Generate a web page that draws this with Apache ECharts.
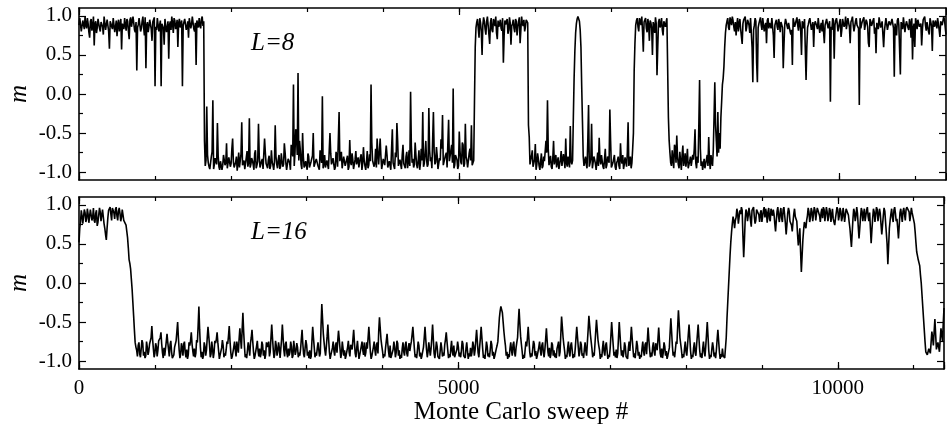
<!DOCTYPE html>
<html>
<head>
<meta charset="utf-8">
<script src="https://cdn.jsdelivr.net/npm/echarts@6/dist/echarts.min.js"></script>
<style>html,body{margin:0;padding:0;background:#fff}#c{width:947px;height:425px}</style>
</head>
<body>
<div id="c"></div>
<script>
// Sweep spacing between stored samples (main samples at 0,20,40..; mid samples at 10,30,50..)
const STEP = 20;
// x axis: Monte Carlo sweep
const X_MIN = 0, X_MAX = 11400;
const xLabelValues = [0, 5000, 10000];
const yLabelValues = [-1.0, -0.5, 0.0, 0.5, 1.0];
const yMinorValues = [-0.75, -0.25, 0.25, 0.75];

// ---- L=8 magnetisation (m x 100), main samples, successive segments ----
const l8Up1 = [88,95,78,92,99,84,90,72,96,87,62,93,85,98,80,91,76,97,89,94,58,90,83,99,86,74,95,88,57,92,97,81,93,70,98,87,91,79,30,89,96,84,99,75,33,92,86,97,68,90,10,82,95,88,10,91,63,97,85,45,93,99,78,94,87,60,96,83,10,90,98,86,72,95,89,99,80,37,92,97,84,99,93];
const l8Down1 = [-92,-16,-88,-96,-80,-8,-90,-84,-37,-93,-86,-97,-78,-91,-63,-95,-82,-89,-57,-94,-87,-98,-75,-92,-36,-88,-96,-81,-93,-31,-90,-85,-97,-72,-91,-38,-94,-86,-96,-57,-89,-95,-79,-92,-87,-97,-40,-90,-84,-96,-76,-93,-63,-88,-95,-82,-97,-70,12,-75,-55,27,-60,-90,-50,-94,-86,-97,-80,-92,-88,-50,-95,-83,-91,-97,-78,-3,-89,-94,-85,-96,-50,-90,-82,-97,-74,-93,-23,-88,-95,-80,-92,-86,-97,-59,-91,-84,-96,-73,-89,-94,-81,-97,-68,-92,-87,-95,-77,12,-85,-93,-70,-57,-90,-57,-96,-83,-91,-66,-94,-86,-97,-45,-89,-75,-37,-92,-84,-96,-65,-90,-80,-95,-72,3,-88,-94,-62,-91,-85,-97,-70,-23,-89,-60,-93,-18,-86,-95,-23,-90,-68,-96,-82,-58,-27,-92,-78,-94,-33,-88,-65,7,-91,-80,-96,-48,-87,-62,-93,-38,-85,-95,-70,-40,-88];
const l8Up2 = [-10,85,96,72,91,50,98,83,93,88,64,97,79,92,99,70,86,95,81,40,94,89,77,98,63,90,84,96,75,93,65,99,87,80,95,91];
const l8Down2 = [-55,-88,-72,-95,-64,-90,-83,-97,-76,-92,-86,-60,-8,-91,-79,-96,-60,-89,-94,-81,-97,-73,-90,-85,-57,-93,-80,-41,-90];
const l8Hump = [-30,55,90,99,93,60,-35];
const l8Down3 = [-92,-80,-95,-14,-88,-38,-93,-84,-97,-75,-56,-90,-86,-96,-70,-91,-83,-20,-94,-88,-78,-97,-85,-92,-63,-89,-96,-81,-93,-36,-87,-95,-70];
const l8Up3 = [30,88,97,80,93,99,54,90,84,96,68,91,50,87,98,24,92,85,97,75,94,88,96];
const l8Down4 = [-60,-88,-72,-95,-68,-53,-90,-74,-97,-66,-86,-93,-70,-96,-80,-91,-84,-45,-95,-88,18,-92,-97,-83,-94,-78,-55,-96,-87,-72,15,-60,-23,-50];
const l8Up4 = [-30,12,35,78,93,85,98,88,94,80,75,97,90,83,64,95,99,86,92,78,96,15,88,93,15,90,98,82,95,87,65,97,91,84,99,46,92,86,96,79,94,33,89,97,83,93,76,37,95,88,98,81,92,50,90,96,18,85,94,99,80,60,93,87,97,78,91,95,65,89,98,84,-10,82,94,88,97,80,92,73,96,86,99,83,91,65,95,88,79,97,90,-14,84,93,98,81,92,65,96,87,94,77,52,90,98,85,93,60,89,96,80,92,86,97,22,84,94,88,25,91,98,79,93,85,96,72,44,90,97,83,94,88,62,95,99,81,92,76,96,55,89,94,84,98,73,91,86,95,76];

// ---- L=8 mid samples (between main samples) ----
const l8MidUp1 = [97,80,94,83,88,97,79,93,81,99,90,78,96,84,92,86,99,82,95,80,93,86,97,79,94,89,80,96,90,83,88,96,80,95,86,99,82,92,85,97,80,93,85,98,88,79,95,83,92,98,86,97,80,94,90,84,96,79,93,88,82,90,97,83,95,91,85,94,88,96,82,93,97,84,99,83,91,94,85,88,96,87,-60];
const l8MidDown1 = [-85,-78,-93,-88,-74,-96,-82,-90,-79,-97,-84,-91,-76,-88,-95,-81,-93,-70,-87,-96,-80,-89,-94,-77,-91,-85,-98,-73,-88,-94,-82,-90,-76,-95,-86,-79,-92,-83,-97,-75,-89,-84,-96,-72,-91,-87,-80,-95,-78,-93,-86,-90,-75,-97,-83,-88,-65,-80,-92,-45,-78,-85,-72,-96,-80,-91,-84,-76,-94,-87,-79,-93,-86,-81,-90,-72,-88,-95,-78,-92,-85,-97,-76,-89,-83,-94,-80,-91,-86,-74,-95,-82,-88,-79,-93,-87,-76,-96,-84,-90,-81,-94,-77,-89,-85,-97,-73,-91,-86,-62,-83,-88,-94,-76,-89,-80,-95,-82,-90,-78,-93,-85,-70,-88,-96,-81,-60,-92,-84,-78,-89,-95,-74,-87,-92,-66,-83,-90,-78,-95,-72,-88,-85,-93,-76,-84,-90,-72,-81,-96,-74,-87,-79,-94,-85,-70,-91,-82,-75,-93,-86,-72,-88,-95,-78,-84,-92,-73,-90,-65,-89,-80,-94,-76,-85,-91,-85];
const l8MidUp2 = [60,92,84,97,80,88,93,76,99,86,91,82,96,87,78,94,90,84,97,75,89,96,82,91,87,95,79,93,86,98,82,90,95,86,93,-40];
const l8MidDown2 = [-90,-79,-93,-84,-97,-76,-92,-86,-95,-80,-88,-75,-70,-85,-93,-82,-90,-78,-87,-96,-84,-92,-77,-95,-88,-80,-94,-86,-85];
const l8MidHump = [20,78,96,98,82,10,-80];
const l8MidDown3 = [-86,-90,-60,-93,-82,-95,-80,-89,-86,-92,-84,-78,-93,-83,-95,-80,-88,-60,-91,-83,-93,-88,-80,-96,-84,-78,-90,-86,-75,-92,-80,-88,-50];
const l8MidUp3 = [65,94,86,97,88,80,92,97,79,88,94,84,92,78,90,60,96,88,82,93,86,97,-30];
const l8MidDown4 = [-75,-92,-84,-65,-88,-80,-95,-86,-78,-92,-76,-84,-95,-86,-92,-78,-70,-88,-80,-40,-70,-86,-90,-95,-84,-92,-85,-78,-92,-30,-40,-80,-75,-70];
const l8MidUp4 = [-10,20,60,88,97,82,94,99,86,92,89,80,96,84,90,93,80,95,88,97,60,82,97,40,85,92,88,97,80,91,94,84,89,97,75,88,95,82,90,92,85,64,96,87,91,80,82,97,86,94,88,96,80,93,84,95,60,89,97,82,92,88,95,83,97,86,80,93,88,96,84,93,86,97,45,94,90,85,96,82,95,89,83,97,86,92,99,80,93,88,84,97,89,92,82,95,86,60,93,90,97,85,91,83,96,88,94,80,97,82,93,88,96,84,90,75,97,86,92,83,98,88,94,82,91,97,85,60,92,95,86,90,83,97,88,92,80,97,87,94,86,90,97,82,93,88,99,85];

// ---- L=16 magnetisation (m x 100), main samples, successive segments ----
const l16Up1 = [52,78,86,74,90,82,88,76,92,84,80,89,73,87,91,79,85,70,55,83,93,88,96,90,94,86,92,89,84,87,80];
const l16Fall1 = [74,58,30,18,-8,-42,-76];
const l16Down1 = [
-86,-80,-91,-84,-77,-88,-93,-82,-87,-79,-55,-84,-90,-81,-86,-76,-63,-89,-83,-92,
-65,-85,-79,-88,-94,-82,-74,-50,-86,-91,-83,-78,-89,-85,-92,-80,-63,-87,-84,-90,
-76,-30,-82,-88,-93,-81,-86,-56,-79,-91,-84,-89,-77,-63,-87,-92,-83,-80,-90,-85,
-78,-55,-88,-94,-82,-86,-75,-89,-58,-84,-38,-80,-91,-86,-83,-77,-60,-88,-93,-81,
-87,-84,-90,-79,-86,-92,-82,-75,-88,-53,-85,-91,-80,-87,-83,-94,-53,-86,-78,-90,
-84,-88,-81,-93,-76,-87,-82,-89,-85,-60,-91,-83,-79,-88,-86,-94,-56,-82,-89,-84,
-78,-90,-27,-65,-86,-81,-53,-88,-92,-83,-87,-80,-89,-61,-84,-91,-77,-86,-93,-82,
-88,-79,-85,-60,-90,-83,-87,-92,-81,-86,-76,-89,-84,-56,-88,-93,-82,-86,-79,-90,
-44,-72,-87,-91,-83,-65,-88,-80,-94,-85,-82,-89,-77,-86,-92,-84,-88,-79,-90,-83,
-87,-75,-56,-84,-91,-86,-80,-89,-93,-82,-56,-85,-88,-78,-84,-53,-90,-86,-81,-92,
-87,-83,-89,-79,-63,-86,-91,-84,-88,-80,-93,-85,-82,-89,-86,-78,-91,-84,-87,-90,
-83,-88,-80,-86,-60,-89,-82,-56,-84,-92,-87,-81,-90,-85,-79,-88,-93,-84,-75,-45,
-30,-38,-62,-80,-88,-91,-84,-86,-79,-89,-83,-70,-33,-68,-87,-92,-85,-81,-56,-88,
-90,-84,-78,-87,-93,-82,-86,-80,-89,-85,-58,-88,-83,-91,-79,-86,-90,-84,-75,-88,
-43,-70,-87,-92,-83,-89,-80,-86,-91,-84,-56,-82,-88,-79,-90,-85,-87,-76,-42,-66,
-84,-89,-78,-47,-73,-86,-91,-83,-88,-80,-87,-92,-84,-50,-79,-88,-85,-90,-50,-82,
-86,-89,-81,-93,-84,-87,-56,-83,-90,-86,-80,-88,-92,-84,-87,-79,-91,-57,-85,-89,
-82,-88,-77,-86,-57,-90,-84,-89,-81,-87,-93,-83,-45,-80,-88,-85,-78,-35,-70,-86,
-91,-84,-88,-80,-53,-87,-92,-83,-89,-79,-53,-86,-90,-84,-88,-81,-50,-87,-92,-85,
-83,-89,-86,-60,-88,-91,-84,-93,-95];
const l16Rise = [-45,-5,35,65,85];
const l16Up2 = [
70,84,90,78,88,93,33,82,91,86,89,72,94,85,80,92,87,90,78,93,
84,89,91,82,95,86,88,66,92,85,90,83,94,87,62,89,92,81,66,88,
85,79,48,70,14,55,78,70,86,91,84,92,88,93,89,95,86,90,83,94,
88,91,85,93,87,82,74,90,94,86,92,84,89,80,93,87,70,46,82,91,
86,89,57,84,92,88,79,93,85,90,51,83,91,87,94,80,89,62,86,92,
78,24,70,88,84,93,89,82,57,90,86,92,88,94,96,91,87,90];
const l16Fall2 = [88,65,40,30,22,0,-30,-60,-88];
const l16Down2 = [-92,-84,-90,-62,-80,-46,-85,-76,-88,-58,-74,-32];

// ---- L=16 mid samples ----
const l16MidUp1 = [70,93,76,94,78,95,77,94,80,96,77,93,78,96,79,94,76,62,70,93,97,80,98,82,97,80,96,79,94,80,78];
const l16MidFall1 = [66,45,25,5,-25,-60,-82];
const l16MidDown1 = [
-94,-76,-95,-73,-93,-96,-75,-92,-78,-70,-72,-95,-77,-94,-74,-70,-78,-96,-93,-75,
-76,-94,-74,-96,-92,-78,-62,-70,-96,-77,-93,-75,-95,-97,-76,-74,-78,-94,-95,-73,
-55,-60,-95,-97,-76,-93,-70,-68,-95,-75,-96,-74,-72,-76,-97,-94,-73,-95,-93,-75,
-68,-74,-97,-92,-75,-94,-76,-72,-72,-60,-62,-95,-96,-76,-93,-70,-75,-97,-92,-74,
-94,-95,-75,-93,-97,-76,-78,-94,-70,-70,-96,-74,-93,-76,-96,-72,-70,-94,-75,-95,
-93,-75,-96,-74,-92,-77,-95,-93,-72,-78,-95,-73,-93,-96,-97,-74,-70,-95,-93,-76,
-94,-55,-46,-76,-93,-68,-72,-97,-94,-75,-93,-76,-74,-72,-96,-75,-93,-97,-95,-74,
-94,-77,-72,-76,-95,-74,-97,-93,-75,-92,-94,-76,-70,-72,-97,-94,-75,-93,-76,-62,
-58,-80,-96,-94,-74,-78,-95,-96,-94,-75,-95,-74,-93,-97,-96,-76,-93,-75,-94,-77,
-80,-66,-70,-95,-96,-75,-94,-97,-93,-70,-72,-95,-76,-93,-70,-72,-96,-75,-94,-97,
-76,-94,-93,-72,-75,-96,-95,-74,-93,-95,-96,-75,-94,-95,-74,-93,-96,-76,-97,-94,
-94,-75,-93,-72,-75,-95,-70,-70,-96,-97,-75,-94,-95,-74,-93,-97,-95,-80,-60,-36,
-34,-50,-72,-93,-97,-95,-76,-93,-75,-94,-76,-50,-52,-78,-97,-96,-75,-70,-72,-95,
-94,-74,-93,-97,-95,-75,-93,-76,-95,-72,-74,-94,-96,-76,-93,-95,-96,-80,-94,-66,
-56,-79,-97,-95,-75,-94,-76,-96,-95,-70,-69,-94,-75,-93,-96,-76,-93,-60,-54,-75,
-95,-93,-62,-60,-80,-97,-95,-74,-93,-76,-97,-95,-68,-65,-93,-95,-96,-70,-66,-93,
-95,-76,-94,-97,-75,-72,-70,-95,-96,-74,-93,-97,-95,-75,-93,-76,-74,-72,-95,-94,
-76,-93,-75,-72,-74,-95,-96,-76,-93,-97,-95,-64,-62,-93,-95,-75,-56,-52,-78,-96,
-95,-75,-93,-66,-70,-97,-95,-76,-93,-66,-70,-95,-96,-75,-94,-66,-68,-97,-95,-76,
-94,-96,-72,-74,-97,-95,-93,-96,-70];
const l16MidRise = [-25,15,52,76,80];
const l16MidUp2 = [
80,95,76,93,97,60,55,94,79,96,80,93,97,76,94,96,78,93,76,97,
95,77,96,79,97,94,76,80,97,78,96,78,97,76,75,96,79,74,78,95,
82,62,58,40,35,68,74,80,96,78,96,79,97,80,96,97,78,95,97,79,
97,79,96,78,95,78,83,97,80,96,79,96,78,95,97,78,58,64,95,79,
97,72,70,96,79,95,78,97,79,70,68,95,78,97,79,95,75,74,96,78,
50,46,80,95,78,97,79,70,74,95,78,96,80,97,98,79,96,89];
const l16MidFall2 = [76,52,35,26,10,-15,-45,-75,-90];
const l16MidDown2 = [-88,-86,-76,-70,-62,-66,-80,-82,-72,-66,-52];

const l8 = [].concat(l8Up1, l8Down1, l8Up2, l8Down2, l8Hump, l8Down3, l8Up3, l8Down4, l8Up4);
const l8Mid = [].concat(l8MidUp1, l8MidDown1, l8MidUp2, l8MidDown2, l8MidHump, l8MidDown3, l8MidUp3, l8MidDown4, l8MidUp4);
const l16 = [].concat(l16Up1, l16Fall1, l16Down1, l16Rise, l16Up2, l16Fall2, l16Down2);
const l16Mid = [].concat(l16MidUp1, l16MidFall1, l16MidDown1, l16MidRise, l16MidUp2, l16MidFall2, l16MidDown2);

// interleave main samples (sweep i*STEP) with mid samples (sweep i*STEP + STEP/2)
function toPoints(main, mid) {
  const out = [];
  main.forEach((v, i) => {
    out.push([i * STEP, v / 100]);
    if (i < mid.length) out.push([i * STEP + STEP / 2, mid[i] / 100]);
  });
  return out;
}

const FONT = 'Liberation Serif';
const BLACK = '#000';
const TICK = {color: BLACK, width: 1.2};

function xAxes(gridIndex, withLabels) {
  const base = {gridIndex, type: 'value', min: X_MIN, max: X_MAX, splitLine: {show: false}};
  return [
    Object.assign({}, base, {position: 'bottom', interval: 5000,
      axisLine: {show: true, onZero: false, lineStyle: {color: BLACK, width: 1.6}},
      axisTick: {show: true, inside: true, length: 7, lineStyle: TICK},
      axisLabel: {show: withLabels, margin: 9, color: BLACK, fontFamily: FONT, fontSize: 21,
        formatter: v => (xLabelValues.indexOf(v) >= 0 ? String(v) : '')}}),
    Object.assign({}, base, {position: 'bottom', interval: 1000,
      axisLine: {show: false, onZero: false}, axisLabel: {show: false},
      axisTick: {show: true, inside: true, length: 4, lineStyle: TICK}}),
    Object.assign({}, base, {position: 'top', interval: 5000,
      axisLine: {show: true, onZero: false, lineStyle: {color: BLACK, width: 1.6}},
      axisTick: {show: true, inside: true, length: 7, lineStyle: TICK},
      axisLabel: {show: false}}),
    Object.assign({}, base, {position: 'top', interval: 1000,
      axisLine: {show: false, onZero: false}, axisLabel: {show: false},
      axisTick: {show: true, inside: true, length: 4, lineStyle: TICK}})
  ];
}
function yAxes(gridIndex) {
  const base = {gridIndex, type: 'value', min: -1.1, max: 1.1, splitLine: {show: false}};
  return [
    Object.assign({}, base, {position: 'left',
      axisLine: {show: true, onZero: false, lineStyle: {color: BLACK, width: 1.6}},
      axisTick: {show: true, inside: true, length: 7, customValues: yLabelValues, lineStyle: TICK},
      axisLabel: {show: true, margin: 7, color: BLACK, fontFamily: FONT, fontSize: 21, customValues: yLabelValues,
        formatter: v => v.toFixed(1)}}),
    Object.assign({}, base, {position: 'left',
      axisLine: {show: false, onZero: false}, axisLabel: {show: false},
      axisTick: {show: true, inside: true, length: 4, customValues: yMinorValues, lineStyle: TICK}}),
    Object.assign({}, base, {position: 'right',
      axisLine: {show: true, onZero: false, lineStyle: {color: BLACK, width: 1.6}},
      axisTick: {show: true, inside: true, length: 7, customValues: yLabelValues, lineStyle: TICK},
      axisLabel: {show: false}}),
    Object.assign({}, base, {position: 'right',
      axisLine: {show: false, onZero: false}, axisLabel: {show: false},
      axisTick: {show: true, inside: true, length: 4, customValues: yMinorValues, lineStyle: TICK}})
  ];
}

const chart = echarts.init(document.getElementById('c'), null, {renderer: 'canvas'});
chart.setOption({
  animation: false,
  backgroundColor: '#fff',
  grid: [
    {left: 79, right: 1, top: 8, height: 172},
    {left: 79, right: 1, top: 197, height: 172}
  ],
  xAxis: xAxes(0, false).concat(xAxes(1, true)),
  yAxis: yAxes(0).concat(yAxes(1)),
  series: [
    {type: 'line', xAxisIndex: 0, yAxisIndex: 0, data: toPoints(l8, l8Mid), showSymbol: false,
      lineStyle: {color: BLACK, width: 1.6}, silent: true},
    {type: 'line', xAxisIndex: 4, yAxisIndex: 4, data: toPoints(l16, l16Mid), showSymbol: false,
      lineStyle: {color: BLACK, width: 1.6}, silent: true}
  ],
  graphic: [
    {type: 'text', x: 251, y: 43, style: {text: 'L=8', fill: BLACK, font: 'italic 25px "Liberation Serif"', textAlign: 'left', textVerticalAlign: 'middle'}},
    {type: 'text', x: 251, y: 232, style: {text: 'L=16', fill: BLACK, font: 'italic 25px "Liberation Serif"', textAlign: 'left', textVerticalAlign: 'middle'}},
    {type: 'text', x: 19, y: 94, rotation: Math.PI / 2, style: {text: 'm', fill: BLACK, font: 'italic 25px "Liberation Serif"', textAlign: 'center', textVerticalAlign: 'middle'}},
    {type: 'text', x: 19, y: 283, rotation: Math.PI / 2, style: {text: 'm', fill: BLACK, font: 'italic 25px "Liberation Serif"', textAlign: 'center', textVerticalAlign: 'middle'}},
    {type: 'text', x: 521, y: 412, style: {text: 'Monte Carlo sweep #', fill: BLACK, font: '25px "Liberation Serif"', textAlign: 'center', textVerticalAlign: 'middle'}}
  ]
});
</script>
</body>
</html>
